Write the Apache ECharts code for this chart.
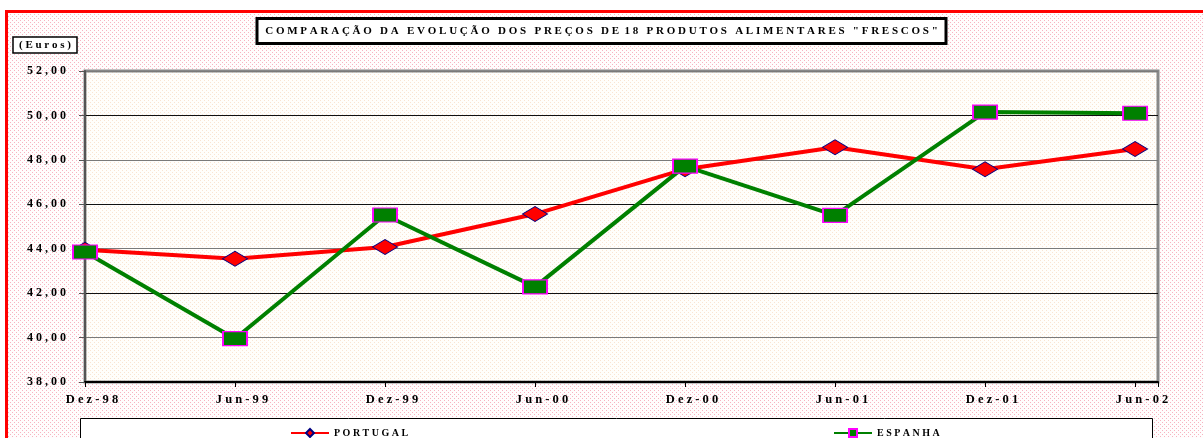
<!DOCTYPE html>
<html>
<head>
<meta charset="utf-8">
<script src="https://cdn.jsdelivr.net/npm/echarts@6/dist/echarts.min.js"></script>
<style>
  html, body { margin: 0; padding: 0; background: #fff; }
  #chart { width: 1203px; height: 438px; }
</style>
</head>
<body>
<div id="chart"></div>
<script>
// ==================== DATA ====================
const periods = ['Dez-98', 'Jun-99', 'Dez-99', 'Jun-00', 'Dez-00', 'Jun-01', 'Dez-01', 'Jun-02'];
const portugal = [43.95, 43.55, 44.08, 45.56, 47.58, 48.57, 47.58, 48.49];
const espanha = [43.85, 39.95, 45.52, 42.28, 47.72, 45.5, 50.15, 50.1];
const yTicks = [38, 40, 42, 44, 46, 48, 50, 52];

// spaced-out lettering like the original sheet
const spaced = s => s.split('').join(' ');

// dotted fills
function dots(bg, dot) {
  const c = document.createElement('canvas');
  c.width = 4; c.height = 4;
  const g = c.getContext('2d');
  g.fillStyle = bg; g.fillRect(0, 0, 4, 4);
  g.fillStyle = dot; g.fillRect(0, 0, 1, 1); g.fillRect(2, 2, 1, 1);
  return { image: c, repeat: 'repeat' };
}

const chart = echarts.init(document.getElementById('chart'));
const serif = '"Liberation Serif", "DejaVu Serif", serif';
const lblStyle = { fontFamily: serif, fontSize: 12, fontWeight: 'bold', color: '#000' };

chart.setOption({
  backgroundColor: dots('#fffdfd', '#f7b3c0'),
  animation: false,
  title: [
    {
      text: 'C O M P A R A Ç Ã O   D A   E V O L U Ç Ã O   D O S   P R E Ç O S   D E  1 8   P R O D U T O S   A L I M E N T A R E S   " F R E S C O S "',
      left: 'center', top: 18,
      backgroundColor: '#fff', borderColor: '#000', borderWidth: 3,
      padding: [8, 8, 7, 8],
      textStyle: { fontFamily: serif, fontSize: 11, fontWeight: 'bold', color: '#000' }
    },
    {
      text: '( E u r o s )',
      left: 13, top: 37,
      backgroundColor: '#fff', borderColor: '#000', borderWidth: 1.5,
      padding: [3, 6, 2, 6],
      textStyle: { fontFamily: serif, fontSize: 11, fontWeight: 'bold', color: '#000' }
    }
  ],
  graphic: [
    { type: 'rect', shape: { x: 0, y: 0, width: 1203, height: 10 }, style: { fill: '#fff' }, z: -1 },
    { type: 'rect', shape: { x: 0, y: 0, width: 5, height: 438 }, style: { fill: '#fff' }, z: -1 },
    { type: 'rect', shape: { x: 5, y: 10, width: 1198, height: 3 }, style: { fill: '#ff0000' } },
    { type: 'rect', shape: { x: 5, y: 10, width: 3, height: 428 }, style: { fill: '#ff0000' } },
    { type: 'rect', shape: { x: 80.5, y: 418.5, width: 1072, height: 30 }, style: { fill: '#fff', stroke: '#000', lineWidth: 1 } }
  ],
  legend: [
    {
      data: ['PORTUGAL'], left: 285, top: 423, itemWidth: 38, itemHeight: 10, itemGap: 4,
      formatter: n => spaced(n),
      textStyle: { fontFamily: serif, fontSize: 10, fontWeight: 'bold', color: '#000' }
    },
    {
      data: ['ESPANHA'], left: 828, top: 423, itemWidth: 38, itemHeight: 10, itemGap: 4,
      formatter: n => spaced(n),
      textStyle: { fontFamily: serif, fontSize: 10, fontWeight: 'bold', color: '#000' }
    }
  ],
  grid: {
    left: 85, right: 45, top: 71, bottom: 56,
    show: true, backgroundColor: dots('#fffefb', '#f9e4d2'),
    borderColor: '#888', borderWidth: 3
  },
  xAxis: {
    type: 'value', min: 0, max: 7.153, interval: 1,
    axisLine: { lineStyle: { color: '#000', width: 2 } },
    axisTick: { show: true, length: 5, lineStyle: { color: '#000' } },
    splitLine: { show: false },
    axisLabel: Object.assign({
      margin: 11, padding: [0, 0, 0, 14],
      formatter: v => Number.isInteger(v) && periods[v] ? spaced(periods[v]) : ''
    }, lblStyle, { fontSize: 12.5 })
  },
  yAxis: {
    type: 'value', min: yTicks[0], max: yTicks[yTicks.length - 1], interval: 2,
    axisLine: { show: true, lineStyle: { color: '#555', width: 2 } },
    axisTick: { show: true, length: 6, inside: false, lineStyle: { color: '#555' } },
    splitLine: { lineStyle: { color: ['#111', '#7a7a7a'], width: 1.2 } },
    axisLabel: Object.assign({
      margin: 19,
      formatter: v => spaced(v.toFixed(2).replace('.', ','))
    }, lblStyle)
  },
  series: [
    {
      name: 'PORTUGAL', type: 'line',
      data: portugal.map((v, i) => [i, v]),
      symbol: 'diamond', symbolSize: [25, 15],
      lineStyle: { color: '#ff0000', width: 4 },
      itemStyle: { color: '#ff0000', borderColor: '#000080', borderWidth: 1 }
    },
    {
      name: 'ESPANHA', type: 'line',
      data: espanha.map((v, i) => [i, v]),
      symbol: 'rect', symbolSize: [24, 14],
      lineStyle: { color: '#008000', width: 4 },
      itemStyle: { color: '#008000', borderColor: '#ff00ff', borderWidth: 1.5 }
    }
  ]
});
</script>
</body>
</html>
